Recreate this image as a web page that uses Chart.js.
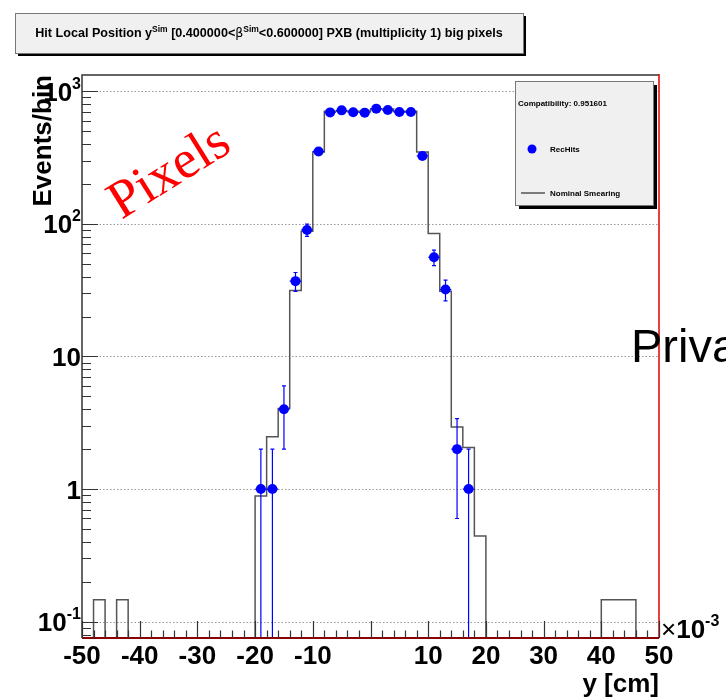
<!DOCTYPE html>
<html>
<head>
<meta charset="utf-8">
<script src="https://cdn.jsdelivr.net/npm/chart.js@4.4.0/dist/chart.umd.min.js"></script>
<style>
  body { margin: 0; background: #fff; }
  #wrap { position: relative; width: 726px; height: 697px; }
</style>
</head>
<body>
<div id="wrap"><canvas id="hist" width="726" height="697"></canvas></div>
<script>
// histogram binning, y in units of 1e-3 cm
const binEdges = [-50, -48, -46, -44, -42, -40, -38, -36, -34, -32, -30, -28, -26, -24, -22, -20,
  -18, -16, -14, -12, -10, -8, -6, -4, -2, 0, 2, 4, 6, 8, 10, 12, 14, 16, 18, 20,
  22, 24, 26, 28, 30, 32, 34, 36, 38, 40, 42, 44, 46, 48, 50];

// nominal smearing, content per bin (50 bins)
const smearing = [0, 0.146, 0, 0.146, 0, 0, 0, 0, 0, 0, 0, 0, 0, 0, 0,
  0.885, 2.48, 4.06, 31.5, 88, 348, 706, 706, 706, 706, 735, 735, 706, 706, 348,
  84.5, 31, 2.94, 2.06, 0.443, 0, 0, 0, 0, 0, 0, 0, 0, 0, 0,
  0.146, 0.146, 0.146, 0, 0];

// rechits (bin centres, counts, errors)
const hitPos = [-19, -17, -15, -13, -11, -9, -7, -5, -3, -1, 1, 3, 5, 7, 9, 11, 13, 15, 17];
const hitCounts = [1, 1, 4, 37, 90, 352, 693, 718, 695, 690, 740, 722, 697, 697, 325, 56, 32, 2, 1];
const hitErr = [1, 1, 2, 6, 9.5, 19, 26, 27, 26, 26, 27, 27, 26, 26, 18, 7.5, 5.7, 1.4, 1];
const hitHalfWidth = 1;

// axis ticks and labels
const xMajor = [-50, -40, -30, -20, -10, 0, 10, 20, 30, 40, 50];
const xLabels = ['-50', '-40', '-30', '-20', '-10', '', '10', '20', '30', '40', '50'];
const yDecades = [0.1, 1, 10, 100, 1000];
const yLabels = [['10', '-1'], ['1', ''], ['10', ''], ['10', '2'], ['10', '3']];

const EMPTY = 1e-3; // empty bins drop below the axis on log scale
const SANS = '"Liberation Sans", Arial, sans-serif';

const histData = binEdges.slice(0, -1).map((e, i) => ({ x: e, y: smearing[i] > 0 ? smearing[i] : EMPTY }));
histData.push({ x: binEdges[binEdges.length - 1], y: histData[histData.length - 1].y });

// draws text pieces with superscripts, [text, size, bold, raise, family]
function richText(ctx, parts, x, y, align) {
  let w = 0;
  parts.forEach(p => {
    ctx.font = (p[2] ? 'bold ' : '') + p[1] + 'px ' + (p[4] || SANS);
    w += ctx.measureText(p[0]).width;
  });
  let cx = align === 'right' ? x - w : align === 'center' ? x - w / 2 : x;
  ctx.textAlign = 'left';
  ctx.textBaseline = 'alphabetic';
  parts.forEach(p => {
    ctx.font = (p[2] ? 'bold ' : '') + p[1] + 'px ' + (p[4] || SANS);
    ctx.fillText(p[0], cx, y - (p[3] || 0));
    cx += ctx.measureText(p[0]).width;
  });
}

function shadowBox(ctx, x, y, w, h, off) {
  ctx.fillStyle = '#000';
  ctx.fillRect(x + off, y + off, w, h);
  ctx.fillStyle = '#f0f0f0';
  ctx.fillRect(x, y, w, h);
  ctx.strokeStyle = '#777';
  ctx.lineWidth = 1;
  ctx.strokeRect(x + 0.5, y + 0.5, w, h);
}

const gridLines = {
  id: 'gridLines',
  beforeDatasetsDraw(chart) {
    const { ctx, chartArea: a, scales: { y } } = chart;
    ctx.save();
    ctx.strokeStyle = '#999';
    ctx.lineWidth = 1;
    ctx.setLineDash([1.5, 2]);
    yDecades.forEach(v => {
      const py = Math.round(y.getPixelForValue(v)) + 0.5;
      ctx.beginPath();
      ctx.moveTo(a.left, py);
      ctx.lineTo(a.right, py);
      ctx.stroke();
    });
    ctx.restore();
  }
};

const errorBars = {
  id: 'errorBars',
  beforeDatasetDraw(chart, args) {
    if (args.index !== 0) return;
    const { ctx, chartArea: a, scales: { x, y } } = chart;
    ctx.save();
    ctx.beginPath();
    ctx.rect(a.left, a.top, a.right - a.left, a.bottom - a.top);
    ctx.clip();
    ctx.strokeStyle = '#0000ff';
    ctx.lineWidth = 1.2;
    hitPos.forEach((p, i) => {
      const px = x.getPixelForValue(p);
      const lo = hitCounts[i] - hitErr[i];
      const yLo = lo > 0 ? y.getPixelForValue(lo) : a.bottom + 2;
      const yHi = y.getPixelForValue(hitCounts[i] + hitErr[i]);
      const yc = y.getPixelForValue(hitCounts[i]);
      ctx.beginPath();
      ctx.moveTo(px, yLo);
      ctx.lineTo(px, yHi);
      ctx.moveTo(px - 2, yHi);
      ctx.lineTo(px + 2, yHi);
      if (lo > 0) {
        ctx.moveTo(px - 2, yLo);
        ctx.lineTo(px + 2, yLo);
      }
      ctx.moveTo(x.getPixelForValue(p - hitHalfWidth), yc);
      ctx.lineTo(x.getPixelForValue(p + hitHalfWidth), yc);
      ctx.stroke();
    });
    ctx.restore();
  }
};

const rootFrame = {
  id: 'rootFrame',
  afterDraw(chart) {
    const { ctx, chartArea: a, scales: { x, y } } = chart;
    ctx.save();

    // frame
    ctx.lineWidth = 1.5;
    ctx.strokeStyle = '#333';
    ctx.beginPath();
    ctx.moveTo(a.left, a.bottom);
    ctx.lineTo(a.left, a.top);
    ctx.lineTo(a.right, a.top);
    ctx.stroke();
    ctx.strokeStyle = '#e00000';
    ctx.beginPath();
    ctx.moveTo(a.right, a.top - 1);
    ctx.lineTo(a.right, a.bottom);
    ctx.stroke();
    ctx.strokeStyle = '#8b0000';
    ctx.lineWidth = 2;
    ctx.beginPath();
    ctx.moveTo(a.left, a.bottom);
    ctx.lineTo(a.right, a.bottom);
    ctx.stroke();

    // ticks
    ctx.strokeStyle = '#333';
    ctx.lineWidth = 1.2;
    ctx.beginPath();
    for (let v = -50; v <= 50; v += 2) {
      const px = Math.round(x.getPixelForValue(v)) + 0.5;
      const len = v % 10 === 0 ? 17 : 7.5;
      ctx.moveTo(px, a.bottom);
      ctx.lineTo(px, a.bottom - len);
    }
    for (let e = -2; e <= 3; e++) {
      for (let m = 1; m <= 9; m++) {
        const v = m * Math.pow(10, e);
        if (v < y.min || v > y.max) continue;
        const py = Math.round(y.getPixelForValue(v)) + 0.5;
        ctx.moveTo(a.left, py);
        ctx.lineTo(a.left + (m === 1 ? 16 : 9), py);
      }
    }
    ctx.stroke();

    // tick labels
    ctx.fillStyle = '#000';
    xMajor.forEach((v, i) => {
      if (!xLabels[i]) return;
      richText(ctx, [[xLabels[i], 26, true]], x.getPixelForValue(v), a.bottom + 26, 'center');
    });
    yDecades.forEach((v, i) => {
      const py = y.getPixelForValue(v);
      const parts = [[yLabels[i][0], 26, true]];
      if (yLabels[i][1]) parts.push([yLabels[i][1], 16, true, 12]);
      richText(ctx, parts, a.left - 1, py + 9.5, 'right');
    });
    richText(ctx, [['\u00d7', 26, false], ['10', 26, true], ['-3', 16, true, 12]], a.right + 2, a.bottom, 'left');

    // axis titles
    richText(ctx, [['y [cm]', 26, true]], a.right, 692, 'right');
    ctx.save();
    ctx.translate(51, a.top);
    ctx.rotate(-Math.PI / 2);
    ctx.font = 'bold 26px ' + SANS;
    ctx.textAlign = 'right';
    ctx.textBaseline = 'alphabetic';
    ctx.fillText('Events/bin', 0, 0);
    ctx.restore();

    // title box
    shadowBox(ctx, 15, 13, 508, 40, 3);
    ctx.fillStyle = '#000';
    richText(ctx, [
      ['Hit Local Position y', 12.6, true], ['Sim', 8.5, true, 5],
      [' [0.400000<', 12.6, true], ['\u03b2', 12.6, false, 0, '"DejaVu Sans", sans-serif'], ['Sim', 8.5, true, 5],
      ['<0.600000] PXB (multiplicity 1) big pixels', 12.6, true]
    ], 269, 37, 'center');

    // legend box
    shadowBox(ctx, 515, 81, 138, 124, 4);
    ctx.fillStyle = '#000';
    richText(ctx, [['Compatibility: 0.951601', 8, true]], 518, 106, 'left');
    richText(ctx, [['RecHits', 8, true]], 550, 152, 'left');
    richText(ctx, [['Nominal Smearing', 8, true]], 550, 196, 'left');
    ctx.fillStyle = '#0000ff';
    ctx.beginPath();
    ctx.arc(532, 149, 4.5, 0, Math.PI * 2);
    ctx.fill();
    ctx.strokeStyle = '#555';
    ctx.lineWidth = 1.5;
    ctx.beginPath();
    ctx.moveTo(521, 193);
    ctx.lineTo(545, 193);
    ctx.stroke();

    // overlays
    ctx.save();
    ctx.translate(170, 173);
    ctx.rotate(-32 * Math.PI / 180);
    ctx.fillStyle = '#ff0000';
    ctx.font = '54px "Liberation Serif", "Times New Roman", serif';
    ctx.textAlign = 'center';
    ctx.textBaseline = 'middle';
    ctx.fillText('Pixels', 0, 0);
    ctx.restore();

    ctx.fillStyle = '#000';
    ctx.font = '47px ' + SANS;
    ctx.textAlign = 'left';
    ctx.textBaseline = 'alphabetic';
    ctx.fillText('Priva', 631, 362);

    ctx.restore();
  }
};

new Chart(document.getElementById('hist'), {
  type: 'scatter',
  data: {
    datasets: [
      {
        type: 'scatter',
        label: 'RecHits',
        data: hitPos.map((p, i) => ({ x: p, y: hitCounts[i] })),
        backgroundColor: '#0000ff',
        borderColor: '#0000ff',
        pointRadius: 5,
        pointBorderWidth: 0
      },
      {
        type: 'line',
        label: 'Nominal Smearing',
        data: histData,
        stepped: true,
        borderColor: '#555',
        borderWidth: 1.5,
        pointRadius: 0,
        fill: false
      }
    ]
  },
  options: {
    responsive: false,
    animation: false,
    devicePixelRatio: 1,
    layout: { padding: { left: 82, top: 75, right: 67, bottom: 59 } },
    scales: {
      x: { type: 'linear', min: -50, max: 50, display: false },
      y: { type: 'logarithmic', min: 0.0753, max: 1327, display: false }
    },
    plugins: { legend: { display: false }, tooltip: { enabled: false } }
  },
  plugins: [gridLines, errorBars, rootFrame]
});
</script>
</body>
</html>
